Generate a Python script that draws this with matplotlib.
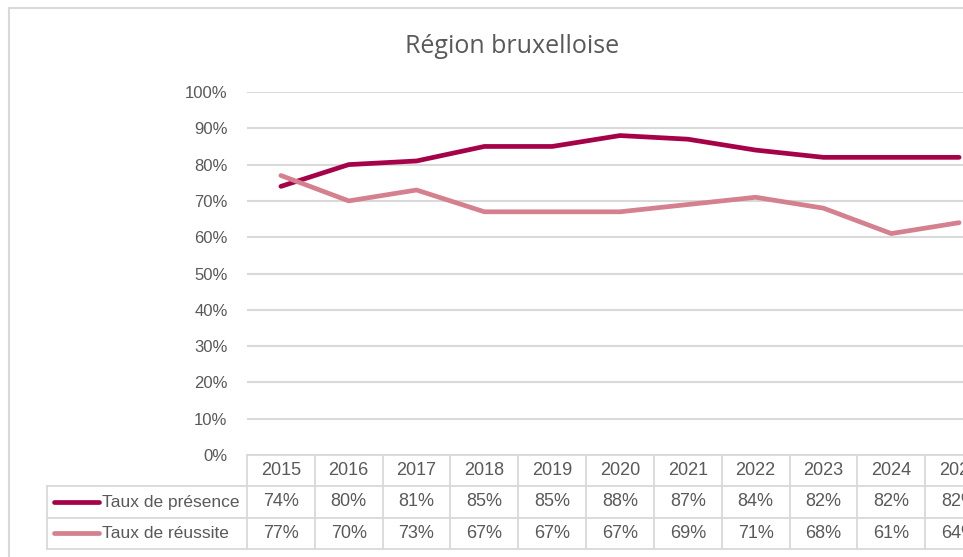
import matplotlib.pyplot as plt
from matplotlib.lines import Line2D

# data
years = [2015, 2016, 2017, 2018, 2019, 2020, 2021, 2022, 2023, 2024, 2025]
presence = [74, 80, 81, 85, 85, 88, 87, 84, 82, 82, 82]
reussite = [77, 70, 73, 67, 67, 67, 69, 71, 68, 61, 64]
series_names = ["Taux de présence", "Taux de réussite"]
y_ticks = [0, 10, 20, 30, 40, 50, 60, 70, 80, 90, 100]

W, H = 963, 557
COL_PRES = "#A5024A"
COL_REUS = "#D4808E"
TEXT = "#595959"
GRID = "#D9D9D9"


def fx(px):
    return px / W


def fy(py):
    return 1 - py / H


plt.rcParams["font.family"] = ["Liberation Sans", "DejaVu Sans"]

fig = plt.figure(figsize=(W / 100, H / 100), dpi=100)

# chart area frame (the right and bottom edges fall outside the crop)
fig.add_artist(Line2D([fx(9), fx(9), 1.02], [-0.02, fy(8), fy(8)],
                      transform=fig.transFigure, color=GRID, lw=1.5))

fig.text(fx(512), fy(53), "Région bruxelloise", ha="center", va="baseline",
         fontsize=18, color=TEXT, family=["Open Sans", "DejaVu Sans"])

# plot area, extends beyond the right edge of the picture
left, right, top, bottom = 247, 993, 92, 455
ax = fig.add_axes([fx(left), fy(bottom), fx(right - left), fy(top) - fy(bottom)])
n = len(years)
xs = list(range(n))
ax.plot(xs, [v / 100 for v in presence], color=COL_PRES, lw=3.4, solid_capstyle="round",
        solid_joinstyle="round", zorder=3)
ax.plot(xs, [v / 100 for v in reussite], color=COL_REUS, lw=3.4, solid_capstyle="round",
        solid_joinstyle="round", zorder=3)
ax.set_xlim(-0.5, n - 0.5)
ax.set_ylim(0, 1)
ax.set_yticks([t / 100 for t in y_ticks])
ax.set_yticklabels([f"{t}%" for t in y_ticks])
ax.set_xticks([])
ax.tick_params(axis="y", length=0, pad=14, labelsize=12, labelcolor=TEXT)
ax.yaxis.grid(True, color=GRID, lw=1.5)
ax.set_axisbelow(True)
for s in ax.spines.values():
    s.set_visible(False)
ax.patch.set_alpha(0)

# data table below the plot
colw = (right - left) / n
tleft_px = 47
x0 = -0.5 - (left - tleft_px) / colw
tab = fig.add_axes([fx(tleft_px), fy(549), fx(right - tleft_px), fy(455) - fy(549)])
tab.set_xlim(x0, n - 0.5)
tab.set_ylim(3, 0)
tab.axis("off")

lk = dict(color=GRID, lw=1.3, clip_on=False)
tab.plot([-0.5, n - 0.5], [0, 0], **lk)
for r in (1, 2, 3):
    tab.plot([x0, n - 0.5], [r, r], **lk)
for k in range(n + 1):
    tab.plot([-0.5 + k, -0.5 + k], [0, 3], **lk)
tab.plot([x0, x0], [1, 3], **lk)

for i, yr in enumerate(years):
    tab.text(i, 0.5, str(yr), ha="center", va="center", fontsize=13, color=TEXT)
    tab.text(i, 1.5, f"{presence[i]}%", ha="center", va="center", fontsize=13, color=TEXT)
    tab.text(i, 2.5, f"{reussite[i]}%", ha="center", va="center", fontsize=13, color=TEXT)

for r, (name, col) in enumerate(zip(series_names, [COL_PRES, COL_REUS])):
    yrow = 1.5 + r
    tab.plot([x0 + 7 / colw, x0 + 52 / colw], [yrow, yrow], color=col, lw=3.4,
             solid_capstyle="round", clip_on=False)
    tab.text(x0 + 55 / colw, yrow, name, ha="left", va="center", fontsize=12.5, color=TEXT)

fig.savefig("out.png", dpi=100)
